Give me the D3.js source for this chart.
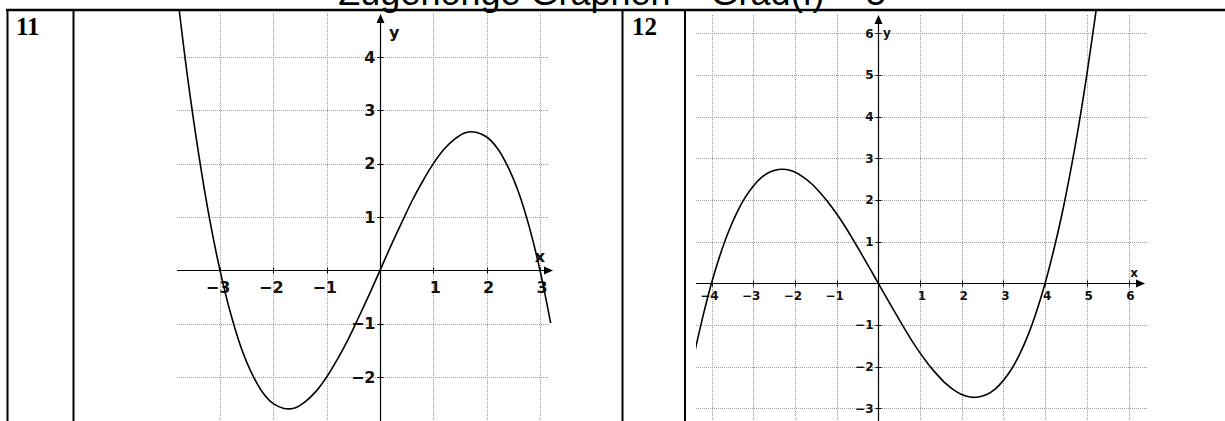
<!DOCTYPE html>
<html>
<head>
<meta charset="utf-8">
<script src="https://cdn.jsdelivr.net/npm/d3@7"></script>
<style>
  body { margin: 0; background: #fff; }
  svg { display: block; }
  .grid line { stroke: #9a9a9a; stroke-width: 1; stroke-dasharray: 1,1; }
  .curve { fill: none; stroke: #000; stroke-width: 1.6; }
  .lbl { font-family: "DejaVu Sans", sans-serif; font-weight: bold; fill: #111; }
</style>
</head>
<body>
<div id="chartDiv"></div>
<script>
// Graph 11
var leftX = [-3.8, -3.6, -3.4, -3.2, -3.0, -2.8, -2.6, -2.4, -2.2, -2.0, -1.8, -1.6, -1.4, -1.2, -1.0,
             -0.8, -0.6, -0.4, -0.2, 0, 0.2, 0.4, 0.6, 0.8, 1.0, 1.2, 1.4, 1.6, 1.8, 2.0, 2.2, 2.4,
             2.6, 2.8, 3.0, 3.2];
var leftY = [5.17, 3.56, 2.18, 0.99, 0, -0.81, -1.46, -1.94, -2.29, -2.5, -2.59, -2.58, -2.46, -2.27, -2.0,
             -1.67, -1.30, -0.88, -0.45, 0, 0.45, 0.88, 1.30, 1.67, 2.0, 2.27, 2.46, 2.58, 2.59, 2.5, 2.29, 1.94,
             1.46, 0.81, 0, -0.99];
var leftTicksX = [-4, -3, -2, -1, 1, 2, 3];
var leftTicksY = [-2, -1, 1, 2, 3, 4];
var leftGridX = [-3, -2, -1, 1, 2, 3];
var leftGridY = [-2, -1, 1, 2, 3, 4];

// Graph 12
var rightX = [-4.4, -4.2, -4.0, -3.8, -3.6, -3.4, -3.2, -3.0, -2.8, -2.6, -2.4, -2.2, -2.0, -1.8, -1.6,
              -1.4, -1.2, -1.0, -0.8, -0.6, -0.4, -0.2, 0, 0.2, 0.4, 0.6, 0.8, 1.0, 1.2, 1.4, 1.6, 1.8,
              2.0, 2.2, 2.4, 2.6, 2.8, 3.0, 3.2, 3.4, 3.6, 3.8, 4.0, 4.2, 4.4, 4.6, 4.8, 5.0, 5.2, 5.4];
var rightY = [-1.64, -0.77, 0, 0.66, 1.22, 1.68, 2.05, 2.33, 2.54, 2.67, 2.73, 2.73, 2.67, 2.55, 2.39,
              2.18, 1.94, 1.67, 1.37, 1.04, 0.70, 0.35, 0, -0.35, -0.70, -1.04, -1.37, -1.67, -1.94, -2.18, -2.39, -2.55,
              -2.67, -2.73, -2.73, -2.67, -2.54, -2.33, -2.05, -1.68, -1.22, -0.66, 0, 0.77, 1.64, 2.64, 3.75, 5.0, 6.38, 7.90];
var rightTicksX = [-4, -3, -2, -1, 1, 2, 3, 4, 5, 6];
var rightTicksY = [-3, -2, -1, 1, 2, 3, 4, 5, 6];
var rightGridX = [-4, -3, -2, -1, 1, 2, 3, 4, 5, 6];
var rightGridY = [-3, -2, -1, 1, 2, 3, 4, 5, 6];

var title = "Zugehörige Graphen – Grad(f) = 3";
var cellNames = ["11", "12"];

var width = 1225, height = 421;
var svg = d3.select("#chartDiv").append("svg")
    .attr("width", width)
    .attr("height", height);

var defs = svg.append("defs");

// title, cut by the top of the window like in the scan
svg.append("text")
    .attr("x", 612).attr("y", 5)
    .attr("text-anchor", "middle")
    .style("font-family", "'Liberation Sans', Arial, sans-serif")
    .style("font-size", "36px")
    .text(title);

// table lines
svg.append("line").attr("x1", 6).attr("x2", 1225).attr("y1", 10).attr("y2", 10)
    .attr("stroke", "#000").attr("stroke-width", 2.5);
[7.5, 73.5, 622.5, 685].forEach(function(x) {
    svg.append("line").attr("x1", x).attr("x2", x).attr("y1", 9).attr("y2", 421)
        .attr("stroke", "#000").attr("stroke-width", 2);
});
svg.selectAll(".cellname").data(cellNames).enter().append("text")
    .attr("x", function(d, i) { return i == 0 ? 16 : 632; })
    .attr("y", 35)
    .style("font-family", "'Liberation Serif', 'Times New Roman', serif")
    .style("font-weight", "bold")
    .style("font-size", "25px")
    .text(function(d) { return d; });

// draws one coordinate system
function drawGraph(o) {
    var x = d3.scaleLinear().domain(o.xDom).range(o.xRange);
    var y = d3.scaleLinear().domain(o.yDom).range(o.yRange);

    defs.append("clipPath").attr("id", o.id + "clip")
        .append("rect")
        .attr("x", o.clip[0]).attr("y", o.clip[1])
        .attr("width", o.clip[2] - o.clip[0]).attr("height", o.clip[3] - o.clip[1]);

    var g = svg.append("g").attr("clip-path", "url(#" + o.id + "clip)");

    var grid = g.append("g").attr("class", "grid");
    grid.selectAll(".gx").data(o.gridX).enter().append("line")
        .attr("x1", function(d) { return Math.round(x(d)) + 0.5; })
        .attr("x2", function(d) { return Math.round(x(d)) + 0.5; })
        .attr("y1", o.gridTop).attr("y2", height);
    grid.selectAll(".gy").data(o.gridY).enter().append("line")
        .attr("x1", o.clip[0]).attr("x2", o.gridRight)
        .attr("y1", function(d) { return Math.round(y(d)) + 0.5; })
        .attr("y2", function(d) { return Math.round(y(d)) + 0.5; });

    var x0 = Math.round(x(0)) + 0.5, y0 = Math.round(y(0)) + 0.5;

    // axes
    g.append("line").attr("x1", o.clip[0]).attr("x2", o.xTip - 6)
        .attr("y1", y0).attr("y2", y0).attr("stroke", "#000").attr("stroke-width", 1.2);
    g.append("path")
        .attr("d", "M" + o.xTip + "," + y0 + "L" + (o.xTip - 9) + "," + (y0 - 4) + "L" + (o.xTip - 9) + "," + (y0 + 4) + "Z")
        .attr("fill", "#000");
    g.append("line").attr("x1", x0).attr("x2", x0)
        .attr("y1", o.yTip + 6).attr("y2", height).attr("stroke", "#000").attr("stroke-width", 1.2);
    g.append("path")
        .attr("d", "M" + x0 + "," + o.yTip + "L" + (x0 - 4) + "," + (o.yTip + 9) + "L" + (x0 + 4) + "," + (o.yTip + 9) + "Z")
        .attr("fill", "#000");

    // ticks and labels
    g.selectAll(".tx").data(o.ticksX).enter().append("line")
        .attr("x1", function(d) { return Math.round(x(d)) + 0.5; })
        .attr("x2", function(d) { return Math.round(x(d)) + 0.5; })
        .attr("y1", y0 - 3).attr("y2", y0 + 3)
        .attr("stroke", "#000");
    g.selectAll(".ty").data(o.ticksY).enter().append("line")
        .attr("x1", x0 - 3).attr("x2", x0 + 3)
        .attr("y1", function(d) { return Math.round(y(d)) + 0.5; })
        .attr("y2", function(d) { return Math.round(y(d)) + 0.5; })
        .attr("stroke", "#000");

    g.selectAll(".lx").data(o.ticksX).enter().append("text")
        .attr("class", "lbl")
        .attr("x", function(d) { return x(d) + (d < 0 ? -2 : 2); })
        .attr("y", y0 + o.labelDy)
        .attr("text-anchor", "middle")
        .style("font-size", o.font + "px")
        .text(function(d) { return d < 0 ? "\u2212" + Math.abs(d) : d; });
    g.selectAll(".ly").data(o.ticksY).enter().append("text")
        .attr("class", "lbl")
        .attr("x", x0 - 5)
        .attr("y", function(d) { return y(d); })
        .attr("dy", "0.36em")
        .attr("text-anchor", "end")
        .style("font-size", o.font + "px")
        .text(function(d) { return d < 0 ? "\u2212" + Math.abs(d) : d; });

    g.append("text").attr("class", "lbl")
        .attr("x", o.xLabel[0]).attr("y", o.xLabel[1])
        .attr("text-anchor", "middle")
        .style("font-size", o.font + "px").text("x");
    g.append("text").attr("class", "lbl")
        .attr("x", o.yLabel[0]).attr("y", o.yLabel[1])
        .style("font-size", o.font + "px").text("y");

    // the graph
    var pts = o.xs.map(function(d, i) { return [d, o.ys[i]]; });
    var line = d3.line()
        .x(function(d) { return x(d[0]); })
        .y(function(d) { return y(d[1]); })
        .curve(d3.curveCatmullRom);
    g.append("path").attr("class", "curve").attr("d", line(pts));
}

drawGraph({
    id: "g11", xs: leftX, ys: leftY,
    xDom: [-3, 3], xRange: [220, 540],
    yDom: [-2, 4], yRange: [377, 57],
    clip: [177, 11, 560, 421],
    gridTop: 13, gridRight: 548,
    gridX: leftGridX, gridY: leftGridY,
    ticksX: leftTicksX, ticksY: leftTicksY,
    xTip: 553, yTip: 14,
    font: 16, labelDy: 22,
    xLabel: [540, 262], yLabel: [389, 38]
});

drawGraph({
    id: "g12", xs: rightX, ys: rightY,
    xDom: [-4, 6], xRange: [711.5, 1128.5],
    yDom: [-3, 6], yRange: [408.3, 33.3],
    clip: [696, 11, 1160, 421],
    gridTop: 15, gridRight: 1148,
    gridX: rightGridX, gridY: rightGridY,
    ticksX: rightTicksX, ticksY: rightTicksY,
    xTip: 1145, yTip: 15,
    font: 12, labelDy: 16,
    xLabel: [1134, 277], yLabel: [883, 37]
});
</script>
</body>
</html>
